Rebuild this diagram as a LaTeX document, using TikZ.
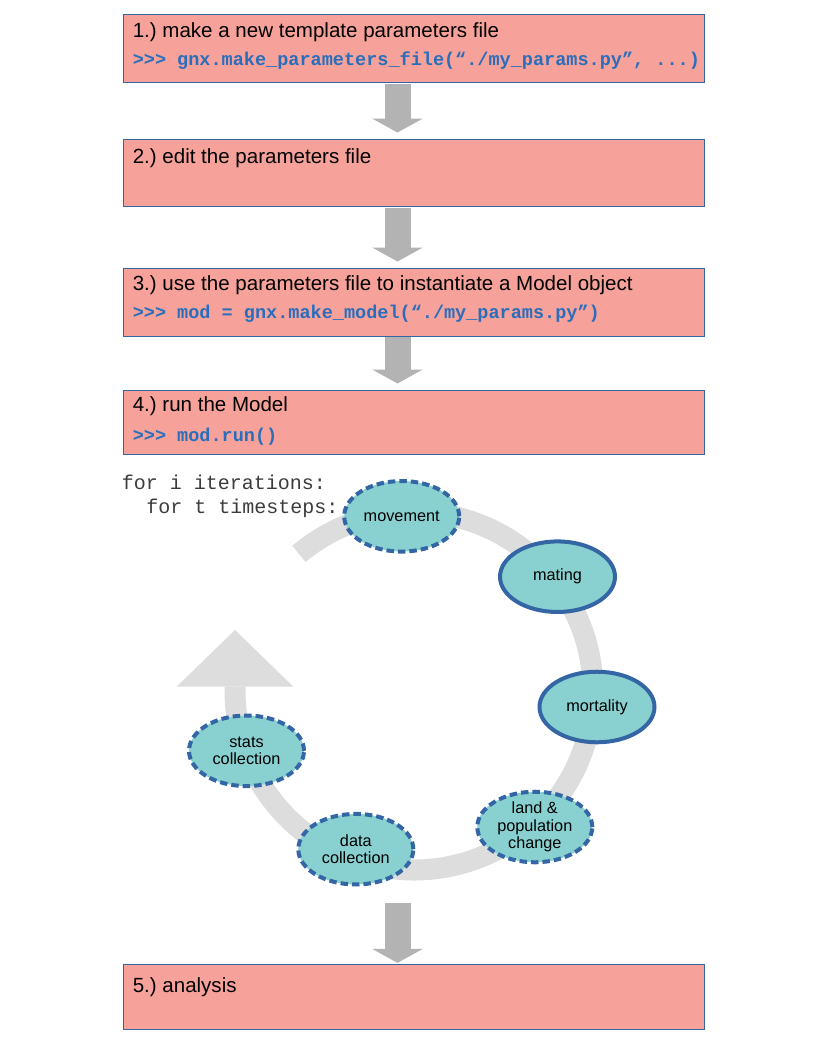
\documentclass[tikz,border=0pt]{standalone}
\usepackage{fontspec}
\setmainfont{Liberation Sans}
\setmonofont{Liberation Mono}
\usepackage{xcolor}
\usetikzlibrary{positioning, arrows.meta, shapes.geometric}
\definecolor{boxred}{HTML}{F6A19A}
\definecolor{boxblue}{HTML}{3465A4}
\definecolor{codeblue}{HTML}{2A6EBB}
\definecolor{cellteal}{HTML}{88D1D0}
\definecolor{flowgray}{HTML}{B3B3B3}
\definecolor{loopgray}{HTML}{DDDDDD}
\definecolor{loopink}{HTML}{3C3C3C}
\frenchspacing

\begin{document}
\begin{tikzpicture}[x=0.75pt, y=-0.75pt,
        stepbox/.style={rectangle, draw=boxblue, fill=boxred, line width=0.75pt, minimum width=435.75pt, inner sep=0pt},
        titletext/.style={anchor=base west, inner sep=0pt, font=\fontsize{15.4}{18}\selectfont},
        codetext/.style={anchor=base west, inner sep=0pt, text=codeblue, font=\fontsize{13.9}{16}\selectfont\ttfamily\bfseries},
        looptext/.style={anchor=base west, inner sep=0pt, text=loopink, font=\fontsize{15}{18}\selectfont\ttfamily},
        flowarrow/.style={draw=flowgray, line width=19.5pt, shorten <=0.5pt, -{Triangle[width=38pt, length=10.5pt, line width=0pt]}},
        loopband/.style={draw=loopgray, line width=15.75pt, -{Triangle[width=87.5pt, length=42.5pt, line width=0pt]}},
        cell/.style={ellipse, draw=boxblue, fill=cellteal, line width=3pt, minimum width=86.25pt, minimum height=52.9pt, inner sep=-4pt, align=center, font=\fontsize{12.2}{13.1}\selectfont},
        celldash/.style={cell, dash pattern=on 5.6pt off 3pt}]
        \useasboundingbox (0,0) rectangle (816,1056);
        %\draw[help lines] (0,0) grid (816,1056);
        \coordinate (spine) at (397.5,0);
        \coordinate (flowstart) at (397.5,902);
        \coordinate (cyc) at (414,691);
        \coordinate (looptip) at (235,630);

        \node[stepbox, minimum height=51pt] (box1) at (413.5,49) {};
        \node[titletext] (title1) at ([shift={(10,22.8)}]box1.north west) {1.) make a new template parameters file};
        \node[codetext] (code1) at ([shift={(10,51)}]box1.north west) {>{}>{}> gnx.make\_parameters\_file(“./my\_params.py”, ...)};

        \node[stepbox, minimum height=50.5pt] (box2) at (413.5,172.7) {};
        \node[titletext] (title2) at ([shift={(10,25)}]box2.north west) {2.) edit the parameters file};

        \node[stepbox, minimum height=51pt] (box3) at (413.5,302) {};
        \node[titletext] (title3) at ([shift={(10,22.8)}]box3.north west) {3.) use the parameters file to instantiate a Model object};
        \node[codetext] (code3) at ([shift={(10,51)}]box3.north west) {>{}>{}> mod = gnx.make\_model(“./my\_params.py”)};

        \node[stepbox, minimum height=48pt] (box4) at (413.5,422) {};
        \node[titletext] (title4) at ([shift={(10,22.3)}]box4.north west) {4.) run the Model};
        \node[codetext] (code4) at ([shift={(10,51.5)}]box4.north west) {>{}>{}> mod.run()};

        \node[stepbox, minimum height=48.5pt] (box5) at (413.5,996.7) {};
        \node[titletext] (title5) at ([shift={(10,28.4)}]box5.north west) {5.) analysis};

        \draw[flowarrow, shorten >=4.5pt] (box1.south -| spine) -- (box2.north -| spine);
        \draw[flowarrow, shorten >=4.5pt] (box2.south -| spine) -- (box3.north -| spine);
        \draw[flowarrow, shorten >=4.5pt] (box3.south -| spine) -- (box4.north -| spine);
        \draw[flowarrow, shorten >=0.75pt] (flowstart) -- (box5.north -| spine);

        \draw[loopband] (cyc) ++(-130:179) arc[start angle=-130, end angle=180, radius=179] -- (looptip);

        \node[looptext] (iterline) at (121.7,489.3) {for i iterations:};
        \node[looptext] (stepline) at (146,513.3) {for t timesteps:};

        \node[celldash] (movement) at (401.7,516.3) {movement};
        \node[cell] (mating) at (557.5,576.7) {mating};
        \node[cell] (mortality) at (597,707) {mortality};
        \node[celldash] (landchange) at (534.8,827) {land \&\\population\\change};
        \node[celldash] (datacoll) at (355.8,849.2) {data\\collection};
        \node[celldash] (statscoll) at (246.5,750.8) {stats\\collection};
\end{tikzpicture}
\end{document}
